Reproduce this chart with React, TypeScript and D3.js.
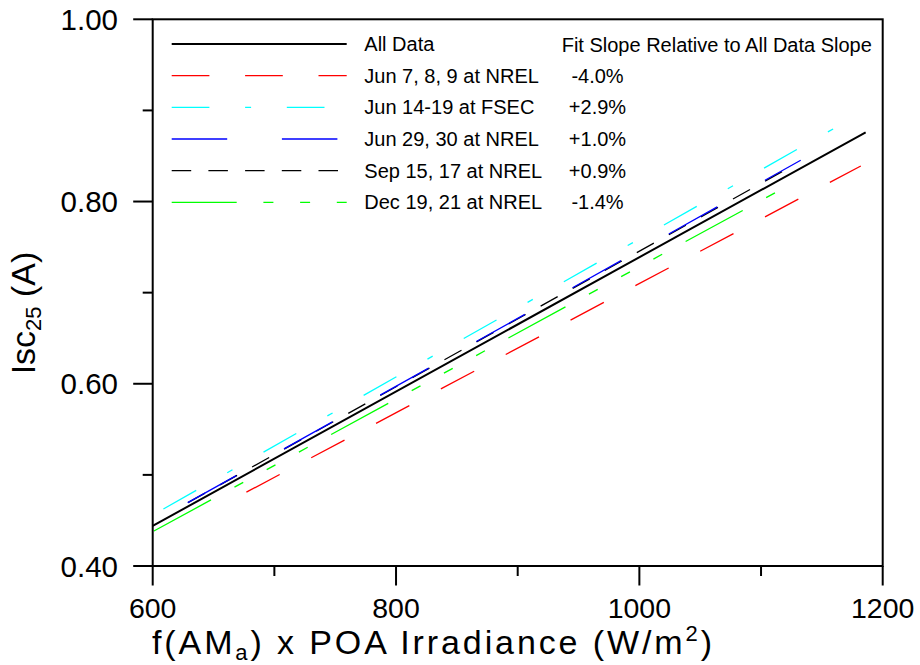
import React from "react";
import * as d3 from "d3";

// ---- data ----
const seriesNames = ["All Data", "Jun 7, 8, 9 at NREL", "Jun 14-19 at FSEC", "Jun 29, 30 at NREL", "Sep 15, 17 at NREL", "Dec 19, 21 at NREL"];
const slopeLabels = ["", "-4.0%", "+2.9%", "+1.0%", "+0.9%", "-1.4%"];
const xStart = [600, 677, 608.8, 628.8, 629, 601];
const xEnd = [1186, 1182, 1165, 1132.6, 1122, 1120];
const yStart = [0.444, 0.481, 0.4626, 0.4695, 0.4695, 0.4384];
const yEnd = [0.876, 0.839, 0.884, 0.8453, 0.8363, 0.8157];
const seriesColors = ["#000000", "#ff0000", "#00ffff", "#0000ff", "#000000", "#00ff00"];
const seriesDash = ["", "37.7 35.7", "37.7 35.7 6 35.7", "55.5 54.7", "19.5 17.2", "65 26.7 10 26.7 10 26.7 10 26.7"];
const seriesWidth = [2, 1.3, 1.3, 1.3, 1.3, 1.3];
const drawOrder = [0, 1, 2, 4, 5, 3];
const xMajor = [600, 800, 1000, 1200];
const xMinor = [700, 900, 1100];
const yMajor = [0.4, 0.6, 0.8, 1.0];
const yMinor = [0.5, 0.7, 0.9];

const W = 920, H = 665;
const L = 152.7, R = 882.7, T = 19.3, B = 566;
const FONT = "Liberation Sans, Arial, Helvetica, sans-serif";

export default function App() {
  const x = d3.scaleLinear().domain([600, 1200]).range([L, R]);
  const y = d3.scaleLinear().domain([0.4, 1.0]).range([B, T]);
  const line = d3.line<[number, number]>().x(d => x(d[0])).y(d => y(d[1]));
  const legX0 = 171.7, legX1 = 346.7, labX = 364.3, pctX = 597.5;
  const rowY = (i: number) => 44 + i * 31.66;

  return (
    <svg width={W} height={H} style={{ position: "absolute", left: 0, top: 0, background: "#fff" }} fontFamily={FONT}>
      <rect x={0} y={0} width={W} height={H} fill="#fff" />
      {/* series */}
      {drawOrder.map(i => (
        <path key={i}
          d={line([[xStart[i], yStart[i]], [xEnd[i], yEnd[i]]]) || ""}
          fill="none" stroke={seriesColors[i]} strokeWidth={seriesWidth[i]}
          strokeDasharray={seriesDash[i] || undefined} />
      ))}
      {/* frame */}
      <rect x={L} y={T} width={R - L} height={B - T} fill="none" stroke="#000" strokeWidth={2} />
      {/* y ticks */}
      {yMajor.map(v => (
        <g key={"ym" + v}>
          <line x1={L - 19.5} x2={L} y1={y(v)} y2={y(v)} stroke="#000" strokeWidth={2} />
          <text x={118} y={y(v) + 10.5} textAnchor="end" fontSize={29.5}>{v.toFixed(2)}</text>
        </g>
      ))}
      {yMinor.map(v => (
        <line key={"yn" + v} x1={L - 10} x2={L} y1={y(v)} y2={y(v)} stroke="#000" strokeWidth={2} />
      ))}
      {/* x ticks */}
      {xMajor.map(v => (
        <g key={"xm" + v}>
          <line x1={x(v)} x2={x(v)} y1={B} y2={B + 19.5} stroke="#000" strokeWidth={2} />
          <text x={x(v)} y={617.5} textAnchor="middle" fontSize={28.5}>{v}</text>
        </g>
      ))}
      {xMinor.map(v => (
        <line key={"xn" + v} x1={x(v)} x2={x(v)} y1={B} y2={B + 10} stroke="#000" strokeWidth={2} />
      ))}
      {/* axis titles */}
      <text x={152} y={654} fontSize={34} textLength={560} lengthAdjust="spacing">
        f(AM<tspan fontSize={22} dy={6}>a</tspan><tspan dy={-6}>) x POA Irradiance (W/m</tspan><tspan fontSize={22} dy={-13}>2</tspan><tspan dy={13}>)</tspan>
      </text>
      <text transform={`translate(35,313) rotate(-90)`} textAnchor="middle" fontSize={34}>
        Isc<tspan fontSize={22} dy={6}>25</tspan><tspan dy={-6}> (A)</tspan>
      </text>
      {/* legend */}
      {seriesNames.map((n, i) => (
        <g key={"lg" + i}>
          <line x1={legX0} x2={legX1} y1={rowY(i)} y2={rowY(i)} stroke={seriesColors[i]}
            strokeWidth={seriesWidth[i]} strokeDasharray={seriesDash[i] || undefined} />
          <text x={labX} y={rowY(i) + 7} fontSize={20}>{n}</text>
          {i > 0 && <text x={pctX} y={rowY(i) + 7} textAnchor="middle" fontSize={20}>{slopeLabels[i]}</text>}
        </g>
      ))}
      <text x={561.7} y={rowY(0) + 8} fontSize={20}>Fit Slope Relative to All Data Slope</text>
    </svg>
  );
}
